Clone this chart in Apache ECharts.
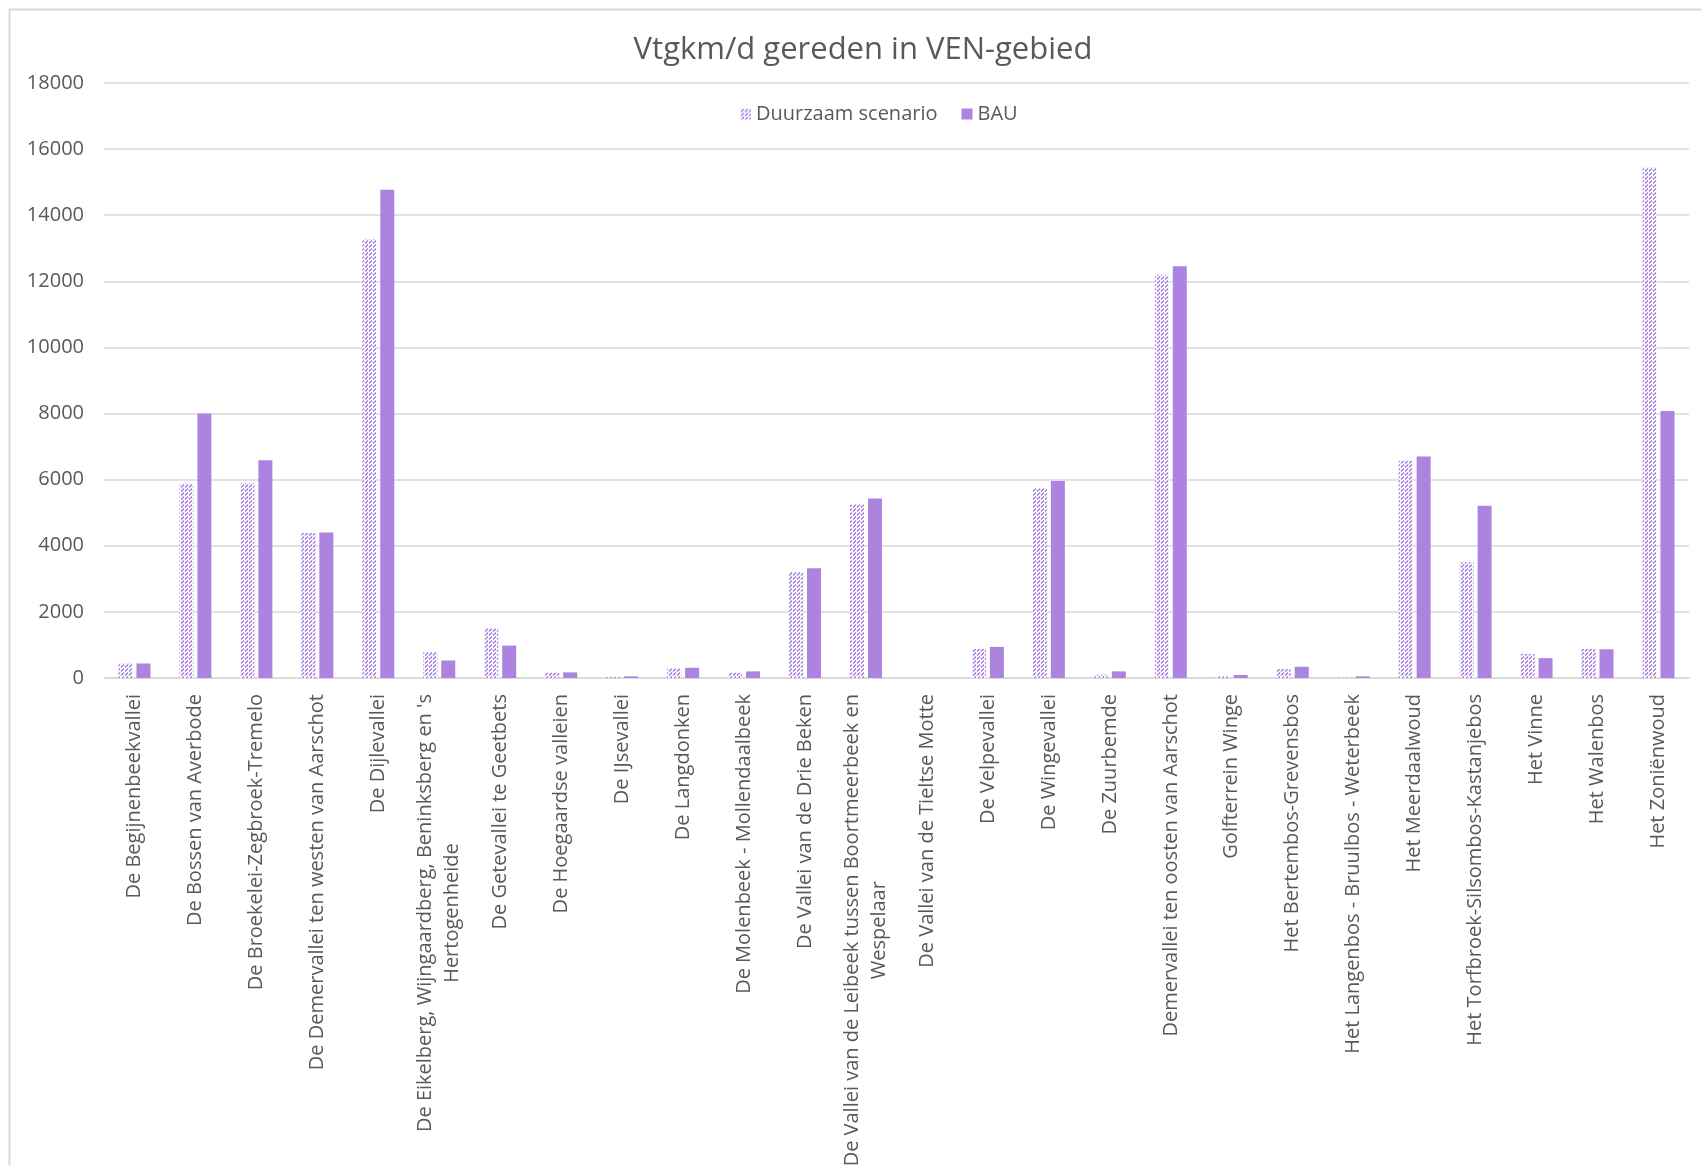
<!DOCTYPE html>
<html>
<head>
<meta charset="utf-8">
<title>Vtgkm/d gereden in VEN-gebied</title>
<script src="https://cdn.jsdelivr.net/npm/echarts@6/dist/echarts.min.js"></script>
<style>
  html, body { margin: 0; padding: 0; background: #fff; }
  #chart { width: 1701px; height: 1165px; }
</style>
</head>
<body>
<div id="chart"></div>
<script>
// VEN areas (Vlaams Ecologisch Netwerk) in the region
const categories = [
  'De Begijnenbeekvallei',
  'De Bossen van Averbode',
  'De Broekelei-Zegbroek-Tremelo',
  'De Demervallei ten westen van Aarschot',
  'De Dijlevallei',
  "De Eikelberg, Wijngaardberg, Beninksberg en 's Hertogenheide",
  'De Getevallei te Geetbets',
  'De Hoegaardse valleien',
  'De IJsevallei',
  'De Langdonken',
  'De Molenbeek - Mollendaalbeek',
  'De Vallei van de Drie Beken',
  'De Vallei van de Leibeek tussen Boortmeerbeek en Wespelaar',
  'De Vallei van de Tieltse Motte',
  'De Velpevallei',
  'De Wingevallei',
  'De Zuurbemde',
  'Demervallei ten oosten van Aarschot',
  'Golfterrein Winge',
  'Het Bertembos-Grevensbos',
  'Het Langenbos - Bruulbos - Weterbeek',
  'Het Meerdaalwoud',
  'Het Torfbroek-Silsombos-Kastanjebos',
  'Het Vinne',
  'Het Walenbos',
  'Het Zoniënwoud'
];

// Vehicle-km per day driven inside each area
const duurzaam = [
  440, 5880, 5900, 4390, 13270, 790, 1500, 160, 30, 290, 160, 3210, 5250,
  0, 880, 5740, 100, 12200, 60, 270, 10, 6570, 3500, 730, 880, 15440
];
const bau = [
  440, 8000, 6590, 4400, 14770, 530, 980, 170, 50, 310, 200, 3320, 5430,
  0, 940, 5960, 200, 12460, 90, 340, 50, 6700, 5210, 600, 870, 8080
];

const seriesNames = ['Duurzaam scenario', 'BAU'];
const yTicks = { min: 0, max: 18000, interval: 2000 };

const TEXT = '#595959';
const GRID = '#d9d9d9';
const PURPLE = '#ad83e0';
const FONT = '"Open Sans", "Noto Sans", sans-serif';

// Dashed upward-diagonal hatch used for the scenario bars
function hatchPattern() {
  const s = 8;
  const c = document.createElement('canvas');
  c.width = s; c.height = s;
  const ctx = c.getContext('2d');
  ctx.fillStyle = '#ffffff';
  ctx.fillRect(0, 0, s, s);
  ctx.strokeStyle = '#a075de';
  ctx.lineWidth = 1.3;
  ctx.lineCap = 'butt';
  // "/" strokes every 4 px, each broken into short dashes
  for (let k = -s; k <= 2 * s; k += 4) {
    for (let t = 0; t < s; t += 4) {
      ctx.beginPath();
      ctx.moveTo(k - t, t + 0.5);
      ctx.lineTo(k - t - 3, t + 3.5);
      ctx.stroke();
    }
  }
  return { image: c, repeat: 'repeat' };
}

// Break long area names on word boundaries; lines are centred on each other
function wrapLabel(name) {
  const words = name.split(' ');
  const lines = [];
  let cur = '';
  for (const w of words) {
    const t = cur ? cur + ' ' + w : w;
    if (t.length > 48 && cur) { lines.push(cur); cur = w; } else { cur = t; }
  }
  lines.push(cur);
  return lines.map(l => '{c|' + l + '}').join('\n');
}

const chart = echarts.init(document.getElementById('chart'), null, { renderer: 'canvas' });

chart.setOption({
  backgroundColor: '#ffffff',
  animation: false,
  graphic: [
    {
      type: 'rect',
      shape: { x: 9.5, y: 9.5, width: 1800, height: 1300 },
      style: { fill: null, stroke: GRID, lineWidth: 2 },
      silent: true
    },
    {
      type: 'text',
      x: 863,
      y: 50,
      style: {
        text: 'Vtgkm/d gereden in VEN-gebied',
        align: 'center',
        verticalAlign: 'middle',
        fill: TEXT,
        font: '31px ' + FONT
      }
    }
  ],
  legend: {
    left: 735,
    top: 99,
    itemWidth: 11,
    itemHeight: 11,
    itemGap: 24,
    icon: 'rect',
    data: seriesNames,
    textStyle: { color: TEXT, fontSize: 20, fontFamily: FONT }
  },
  grid: {
    left: 104, right: 12, top: 83, bottom: 487,
    containLabel: false,
    outerBoundsMode: 'none'
  },
  xAxis: {
    type: 'category',
    data: categories,
    axisLine: { lineStyle: { color: GRID, width: 1.5 } },
    axisTick: { show: false },
    axisLabel: {
      interval: 0,
      rotate: 90,
      margin: 16,
      formatter: wrapLabel,
      rich: {
        c: { align: 'center', color: TEXT, fontSize: 20, fontFamily: FONT, lineHeight: 27 }
      }
    }
  },
  yAxis: {
    type: 'value',
    min: yTicks.min,
    max: yTicks.max,
    interval: yTicks.interval,
    axisLine: { show: false },
    axisTick: { show: false },
    splitLine: { lineStyle: { color: GRID, width: 1.5 } },
    axisLabel: {
      color: TEXT, fontSize: 20, fontFamily: FONT, margin: 20,
      formatter: v => String(v)
    }
  },
  series: [
    {
      name: seriesNames[0],
      type: 'bar',
      data: duurzaam,
      barWidth: 14,
      barGap: '28%',
      itemStyle: { color: hatchPattern() }
    },
    {
      name: seriesNames[1],
      type: 'bar',
      data: bau,
      barWidth: 14,
      barGap: '28%',
      itemStyle: { color: PURPLE }
    }
  ]
});
</script>
</body>
</html>
